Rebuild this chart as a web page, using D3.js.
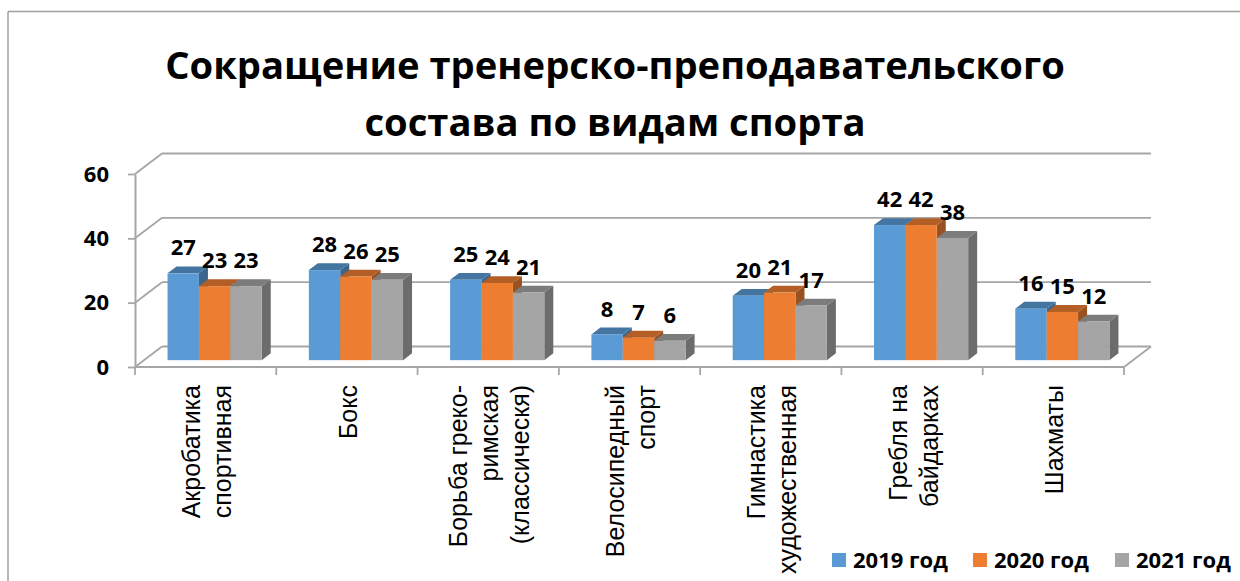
<!DOCTYPE html>
<html>
<head>
<meta charset="utf-8">
<script src="https://cdn.jsdelivr.net/npm/d3@7"></script>
<style>
  body { margin: 0; background: #fff; }
  svg { display: block; }
</style>
</head>
<body>
<div id="wrapper"></div>
<script>

const categories = [
  "Акробатика спортивная",
  "Бокс",
  "Борьба греко-римская (классическя)",
  "Велосипедный спорт",
  "Гимнастика художественная",
  "Гребля на байдарках",
  "Шахматы",
]
const categoryLines = [
  ["Акробатика", "спортивная"],
  ["Бокс"],
  ["Борьба греко-", "римская", "(классическя)"],
  ["Велосипедный", "спорт"],
  ["Гимнастика", "художественная"],
  ["Гребля на", "байдарках"],
  ["Шахматы"],
]
const series = ["2019 год", "2020 год", "2021 год"]
const values2019 = [27, 28, 25, 8, 20, 42, 16]
const values2020 = [23, 26, 24, 7, 21, 42, 15]
const values2021 = [23, 25, 21, 6, 17, 38, 12]
const yTicks = [0, 20, 40, 60]
const colors = ["#5b9bd5", "#ed7d31", "#a5a5a5"]

const titleLines = ["Сокращение тренерско-преподавательского", "состава по видам спорта"]

function drawBarChart() {
  const width = 1240
  const height = 581

  // front floor edge and depth of the 3d box
  const plot = { left: 135, right: 1124, bottom: 367, top: 174 }
  const depth = { dx: 27, dy: -20.5 }
  const gridColor = "#a6a6a6"

  const svg = d3.select("#wrapper")
    .append("svg")
    .attr("width", width)
    .attr("height", height)

  // outer frame (only top and left are visible)
  svg.append("line")
    .attr("x1", 8).attr("y1", 11.5).attr("x2", width).attr("y2", 11.5)
    .attr("stroke", "#a0a0a0").attr("stroke-width", 1.5)
  svg.append("line")
    .attr("x1", 8).attr("y1", 11.5).attr("x2", 8).attr("y2", height)
    .attr("stroke", "#a0a0a0").attr("stroke-width", 1.5)

  // title, fitted to the width of the original
  const title = svg.append("text")
    .attr("text-anchor", "middle")
    .style("font-family", "'Open Sans', sans-serif")
    .style("font-weight", "bold")
    .style("font-size", "44px")
    .attr("fill", "#000")
  title.selectAll("tspan")
    .data(titleLines)
    .enter().append("tspan")
    .attr("x", 615)
    .attr("y", (d, i) => 79 + i * 57)
    .text(d => d)
  const tw = title.select("tspan").node().getComputedTextLength()
  title.style("font-size", (44 * 900 / tw) + "px")

  const x = d3.scaleBand()
    .domain(categories)
    .range([plot.left, plot.right])

  const xSub = d3.scaleBand()
    .domain(series)
    .range([0, x.bandwidth()])
    .paddingInner(0)
    .paddingOuter(0.75)

  const y = d3.scaleLinear()
    .domain([0, 60])
    .range([plot.bottom, plot.top])

  const grid = svg.append("g")
    .attr("stroke", gridColor)
    .attr("stroke-width", 1.8)
    .attr("fill", "none")

  // back wall gridlines
  grid.selectAll(".back")
    .data(yTicks)
    .enter().append("line")
    .attr("x1", plot.left + depth.dx)
    .attr("x2", plot.right + depth.dx)
    .attr("y1", d => y(d) + depth.dy)
    .attr("y2", d => y(d) + depth.dy)

  // side wall diagonals
  grid.selectAll(".side")
    .data(yTicks)
    .enter().append("line")
    .attr("x1", plot.left)
    .attr("x2", plot.left + depth.dx)
    .attr("y1", d => y(d))
    .attr("y2", d => y(d) + depth.dy)

  // floor front edge and right edge
  grid.append("line")
    .attr("x1", plot.left).attr("x2", plot.right)
    .attr("y1", y(0)).attr("y2", y(0))
    .attr("stroke-width", 2.2)
  grid.append("line")
    .attr("x1", plot.right).attr("x2", plot.right + depth.dx)
    .attr("y1", y(0)).attr("y2", y(0) + depth.dy)

  // category boundary ticks
  const bounds = categories.map(c => x(c)).concat([plot.right])
  grid.selectAll(".xtick")
    .data(bounds)
    .enter().append("line")
    .attr("x1", d => d).attr("x2", d => d)
    .attr("y1", y(0)).attr("y2", y(0) + 8)

  // y axis on front left edge
  const yAxis = d3.axisLeft(y)
    .tickValues(yTicks)
    .tickSize(7)
    .tickSizeOuter(0)
    .tickPadding(19)

  const yAxisG = svg.append("g")
    .attr("transform", `translate(${plot.left},0)`)
    .call(yAxis)
  yAxisG.select(".domain").attr("stroke", gridColor).attr("stroke-width", 2)
  yAxisG.selectAll(".tick line").attr("stroke", gridColor).attr("stroke-width", 1.8)
  yAxisG.selectAll(".tick text")
    .attr("fill", "#000")
    .style("font-family", "'Open Sans', sans-serif")
    .style("font-weight", "bold")
    .style("font-size", "22px")

  // bars, each a front face, top face and right side face
  const seriesValues = [values2019, values2020, values2021]
  const bdx = depth.dx / 3
  const bdy = depth.dy / 3

  const barData = []
  categories.forEach((c, i) => {
    series.forEach((s, j) => {
      barData.push({ category: c, series: s, value: seriesValues[j][i], color: colors[j] })
    })
  })

  const bar = svg.append("g")
    .selectAll("g")
    .data(barData)
    .enter().append("g")

  function fx(d) { return x(d.category) + xSub(d.series) + bdx }
  function yt(d) { return y(d.value) + bdy }
  function yb() { return y(0) + bdy }
  const w = xSub.bandwidth()

  bar.append("polygon")
    .attr("points", d => [
      [fx(d) + w, yt(d)], [fx(d) + w + bdx, yt(d) + bdy],
      [fx(d) + w + bdx, yb() + bdy], [fx(d) + w, yb()]
    ].join(" "))
    .attr("fill", d => d3.color(d.color).darker(1.2))

  bar.append("polygon")
    .attr("points", d => [
      [fx(d), yt(d)], [fx(d) + w, yt(d)],
      [fx(d) + w + bdx, yt(d) + bdy], [fx(d) + bdx, yt(d) + bdy]
    ].join(" "))
    .attr("fill", d => d3.color(d.color).darker(0.8))

  bar.append("rect")
    .attr("x", d => fx(d))
    .attr("y", d => yt(d))
    .attr("width", w)
    .attr("height", d => yb() - yt(d))
    .attr("fill", d => d.color)

  // data labels
  svg.append("g")
    .selectAll("text")
    .data(barData)
    .enter().append("text")
    .attr("x", d => fx(d) + w / 2)
    .attr("y", d => yt(d) + bdy - 11)
    .attr("text-anchor", "middle")
    .style("font-family", "'Open Sans', sans-serif")
    .style("font-weight", "bold")
    .style("font-size", "22px")
    .attr("fill", "#000")
    .text(d => d.value)

  // category labels, rotated
  const catLabel = svg.append("g")
    .selectAll("text")
    .data(categories)
    .enter().append("text")
    .attr("transform", d => `translate(${x(d) + x.bandwidth() / 2},385) rotate(-90)`)
    .attr("text-anchor", "end")
    .style("font-family", "'Liberation Sans', Arial, sans-serif")
    .style("font-size", "25px")
    .attr("fill", "#000")

  catLabel.selectAll("tspan")
    .data((d, i) => categoryLines[i].map((t, k, arr) => ({ t: t, k: k, n: arr.length })))
    .enter().append("tspan")
    .attr("x", 0)
    .attr("y", d => 10 + (d.k - (d.n - 1) / 2) * 31)
    .text(d => d.t)

  // legend
  const legendX = [832, 973, 1115]
  const legend = svg.append("g")
    .selectAll("g")
    .data(series)
    .enter().append("g")
    .attr("transform", (d, i) => `translate(${legendX[i]},553)`)

  legend.append("rect")
    .attr("width", 14)
    .attr("height", 14)
    .attr("fill", (d, i) => colors[i])

  legend.append("text")
    .attr("x", 21)
    .attr("y", 15)
    .style("font-family", "'Open Sans', sans-serif")
    .style("font-weight", "bold")
    .style("font-size", "22px")
    .attr("fill", "#000")
    .text(d => d)
}
drawBarChart()

</script>
</body>
</html>
